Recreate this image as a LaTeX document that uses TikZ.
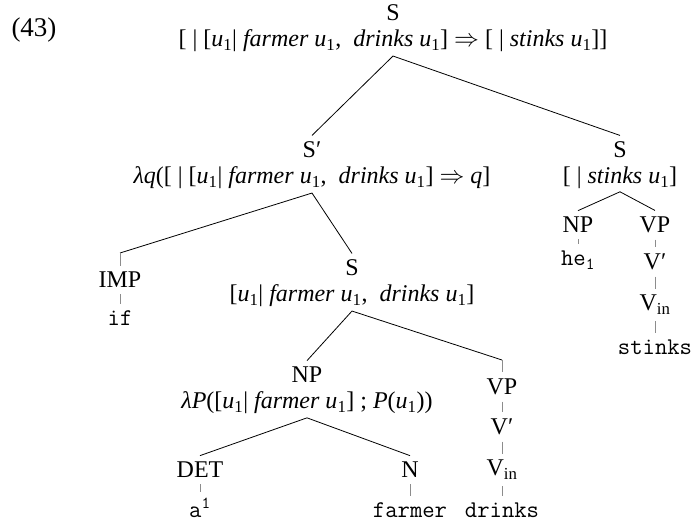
\documentclass[tikz,border=0pt]{standalone}
\usepackage{fontspec}
\setmainfont{Liberation Serif}
\usetikzlibrary{positioning}
\newcommand{\uone}{\textit{u}\textsubscript{1}}
\tikzset{
  cat/.style={inner sep=1.5pt, outer ysep=5pt, font=\fontsize{24}{28}\selectfont},
  sem/.style={inner sep=1pt, font=\fontsize{24}{28}\selectfont},
  word/.style={inner sep=1.5pt, outer ysep=5pt, font=\fontsize{24}{28}\selectfont\ttfamily},
  branch/.style={line width=0.8pt, black},
  unary/.style={line width=0.8pt, black!45}
}

\begin{document}
\begin{tikzpicture}[x=1pt, y=-1pt]
  \useasboundingbox (0,0) rectangle (694,527);
  \node[font=\fontsize{27}{30}\selectfont, inner sep=0pt] (ex) at (34,30) {(43)};

  % top S
  \node[cat] (s) at (393,13) {S};
  \node[sem, below=1pt of s] (ssem) {[ | [\uone| \textit{farmer} \uone,\ \ \textit{drinks} \uone] $\Rightarrow$ [ | \textit{stinks} \uone]]};
  \coordinate[below=3pt of ssem] (sj);

  % S' and right S
  \node[cat] (sbar) at (312,150) {S′};
  \node[sem, below=1pt of sbar] (sbarsem) {\textit{λq}([ | [\uone| \textit{farmer} \uone,\ \ \textit{drinks} \uone] $\Rightarrow$ \textit{q}]};
  \coordinate[below=3pt of sbarsem] (sbarj);
  \node[cat] (s2) at (620,150) {S};
  \node[sem, below=1pt of s2] (s2sem) {[ | \textit{stinks} \uone]};
  \coordinate[below=2pt of s2sem] (s2j);

  % if-clause
  \node[cat] (imp) at (120,280) {IMP};
  \coordinate (impk) at (120,253);
  \node[word] (if) at (120,318) {if};
  \node[cat] (s1) at (352,268) {S};
  \node[sem, below=1pt of s1] (s1sem) {[\uone| \textit{farmer} \uone,\ \ \textit{drinks} \uone]};
  \coordinate[below=3pt of s1sem] (s1j);

  \node[cat] (np1) at (307,375) {NP};
  \node[sem, below=1pt of np1] (np1sem) {\textit{λP}([\uone| \textit{farmer} \uone] ; \textit{P}(\uone))};
  \coordinate[below=3pt of np1sem] (np1j);
  \node[cat] (det) at (200,470) {DET};
  \node[word] (a) at (200,508) {a\textsuperscript{1}};
  \node[cat] (n) at (410,470) {N};
  \node[word] (farmer) at (410,510) {farmer};

  \node[cat] (vp1) at (502,387) {VP};
  \coordinate (vp1k) at (502,360);
  \node[cat] (vbar1) at (502,427) {V′};
  \node[cat] (vin1) at (502,470) {V\textsubscript{in}};
  \node[word] (drinks) at (502,510) {drinks};

  % main clause
  \node[cat] (np2) at (578,225) {NP};
  \node[word] (he) at (578,260) {he\textsubscript{1}};
  \node[cat] (vp2) at (655,225) {VP};
  \node[cat] (vbar2) at (655,262) {V′};
  \node[cat] (vin2) at (655,305) {V\textsubscript{in}};
  \node[word] (stinks) at (655,347) {stinks};

  \draw[branch] (sbar.north) -- (sj) -- (s2.north);
  \draw[branch] (impk) -- (sbarj) -- (s1.north);
  \draw[unary] (impk) -- (imp.north);
  \draw[branch] (np2.north) -- (s2j) -- (vp2.north);
  \draw[branch] (np1.north) -- (s1j) -- (vp1k);
  \draw[unary] (vp1k) -- (vp1.north);
  \draw[branch] (det.north) -- (np1j) -- (n.north);

  \draw[unary] (imp.south) -- (if.north);
  \draw[unary] (det.south) -- (a.north);
  \draw[unary] (n.south) -- (farmer.north);
  \draw[unary] (vp1.south) -- (vbar1.north);
  \draw[unary] (vbar1.south) -- (vin1.north);
  \draw[unary] (vin1.south) -- (drinks.north);
  \draw[unary] (np2.south) -- (he.north);
  \draw[unary] (vp2.south) -- (vbar2.north);
  \draw[unary] (vbar2.south) -- (vin2.north);
  \draw[unary] (vin2.south) -- (stinks.north);
\end{tikzpicture}
\end{document}
